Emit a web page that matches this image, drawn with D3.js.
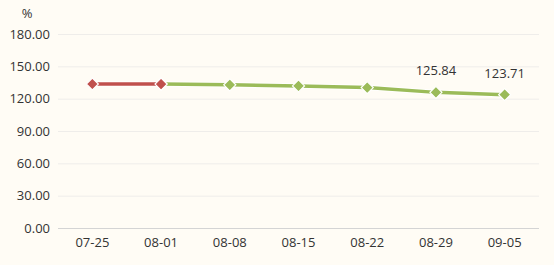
<!DOCTYPE html>
<html><head><meta charset="utf-8">
<script src="https://cdn.jsdelivr.net/npm/d3@7"></script>
<style>body{margin:0;background:#fffcf5;}svg{display:block;}</style>
</head><body>
<script>
const categories = ["07-25","08-01","08-08","08-15","08-22","08-29","09-05"];
const redValues = [133.6, 133.5, null, null, null, null, null];
const greenValues = [null, 133.5, 132.8, 131.8, 130.3, 125.84, 123.71];
const yTicks = [0,30,60,90,120,150,180];
const labelIdx = [5,6];

const W=554,H=265, m={l:58,r:15,t:34,b:37};
const svg=d3.select("body").append("svg").attr("width",W).attr("height",H).style("background","#fffcf5");
const x=d3.scaleBand().domain(categories).range([m.l,W-m.r]);
const y=d3.scaleLinear().domain([0,180]).range([H-m.b,m.t]);
const font="'Open Sans','Noto Sans',sans-serif";

svg.append("g").selectAll("line").data(yTicks.slice(1)).join("line")
 .attr("x1",m.l).attr("x2",W-m.r).attr("y1",d=>y(d)+0.5).attr("y2",d=>y(d)+0.5)
 .attr("stroke","#efedea");
const ya=svg.append("g").attr("transform",`translate(${m.l},0)`)
 .call(d3.axisLeft(y).tickValues(yTicks).tickFormat(d3.format(".2f")).tickSize(0).tickPadding(8));
ya.select(".domain").remove();
ya.selectAll("text").attr("font-family",font).attr("font-size",13).attr("fill","#333");
const xa=svg.append("g").attr("transform",`translate(0,${y(0)+0.5})`)
 .call(d3.axisBottom(x).tickSize(0).tickPadding(9));
xa.select(".domain").attr("stroke","#d4d4d4").attr("d",`M${m.l},0H${W-m.r}`);
xa.selectAll("text").attr("font-family",font).attr("font-size",13).attr("fill","#333");
svg.append("text").attr("x",27).attr("y",18).attr("text-anchor","middle").attr("font-family",font).attr("font-size",13).attr("fill","#333").text("%");

const cx=d=>x(d)+x.bandwidth()/2;
const diamond="M0,-6L6,0L0,6L-6,0Z";
function series(vals,color){
 const pts=categories.map((c,i)=>({c,v:vals[i]})).filter(d=>d.v!=null);
 const line=d3.line().x(d=>cx(d.c)).y(d=>y(d.v));
 svg.append("path").attr("d",line(pts)).attr("fill","none").attr("stroke","#fff").attr("stroke-opacity",0.8).attr("stroke-width",5.5);
 svg.append("path").attr("d",line(pts)).attr("fill","none").attr("stroke",color).attr("stroke-width",3.5);
 svg.append("g").selectAll("path").data(pts).join("path")
  .attr("d",diamond)
  .attr("transform",d=>`translate(${cx(d.c)},${y(d.v)})`)
  .attr("fill",color).attr("stroke","#fff").attr("stroke-width",1.2);
}
series(greenValues,"#9bbb59");
series(redValues,"#c0504d");
svg.append("g").selectAll("text").data(labelIdx).join("text")
 .attr("x",i=>cx(categories[i])).attr("y",i=>y(greenValues[i])-17)
 .attr("text-anchor","middle").attr("font-family",font).attr("font-size",13).attr("fill","#333")
 .text(i=>greenValues[i].toFixed(2));
</script>
</body></html>
